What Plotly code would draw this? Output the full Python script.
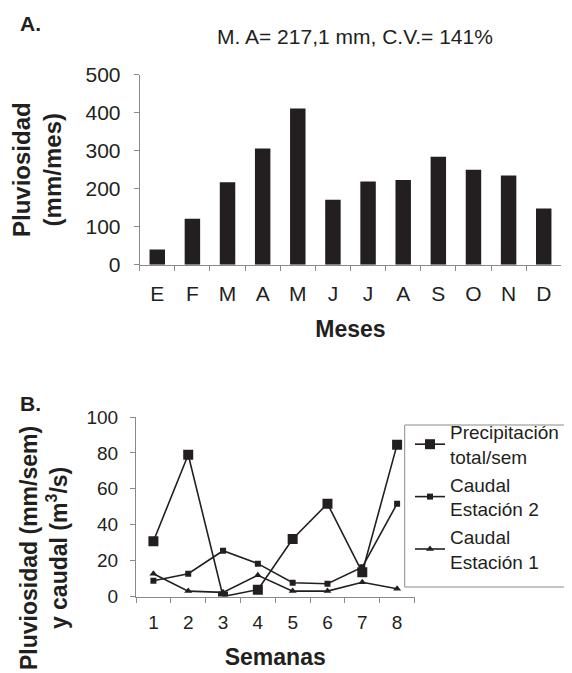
import plotly.graph_objects as go

# ---------------- data ----------------
meses = ["Enero", "Febrero", "Marzo", "Abril", "Mayo", "Junio", "Julio",
         "Agosto", "Septiembre", "Octubre", "Noviembre", "Diciembre"]
meses_etiquetas = ["E", "F", "M", "A", "M", "J", "J", "A", "S", "O", "N", "D"]
pluviosidad_mensual = [40, 121, 217, 306, 411, 171, 219, 223, 284, 250, 235, 148]

semanas = ["1", "2", "3", "4", "5", "6", "7", "8"]
precipitacion_sem = [30.8, 79, 0, 3.8, 32, 51.7, 13.5, 84.6]
caudal_est2 = [8.8, 12.7, 25.5, 18.3, 7.7, 7.1, 16.3, 51.7]
caudal_est1 = [12.7, 3, 2.3, 11.8, 3, 3, 7.9, 4.3]

y_ticks_a = [0, 100, 200, 300, 400, 500]
y_ticks_b = [0, 20, 40, 60, 80, 100]

# ---------------- style ----------------
W, H = 572, 673
INK = "#231f20"
AXC = "#8a8a8a"
FONT = "Liberation Sans, Arial, sans-serif"


def px_x(x):
    return x / W


def px_y(y):
    return (H - y) / H


fig = go.Figure()

fig.add_trace(go.Bar(
    x=meses, y=pluviosidad_mensual, marker=dict(color=INK, line=dict(width=0)),
    xaxis="x", yaxis="y", showlegend=False, name="Pluviosidad",
))

line_style = dict(color=INK, width=1.6)
fig.add_trace(go.Scatter(
    x=semanas, y=precipitacion_sem, mode="lines+markers",
    name="Precipitación<br>total/sem", line=line_style,
    marker=dict(symbol="square", size=10, color=INK),
    xaxis="x2", yaxis="y2",
))
fig.add_trace(go.Scatter(
    x=semanas, y=caudal_est2, mode="lines+markers",
    name="Caudal<br>Estación 2", line=line_style,
    marker=dict(symbol="square", size=6, color=INK),
    xaxis="x2", yaxis="y2",
))
fig.add_trace(go.Scatter(
    x=semanas, y=caudal_est1, mode="lines+markers",
    name="Caudal<br>Estación 1", line=line_style,
    marker=dict(symbol="triangle-up", size=7, color=INK),
    xaxis="x2", yaxis="y2",
))

common_axis = dict(
    showline=True, linecolor=AXC, linewidth=1, showgrid=False, zeroline=False,
    ticks="outside", tickcolor=AXC, ticklen=5, tickwidth=1, automargin=False,
)

xb_domain = [px_x(128), px_x(406.5)]
yb_domain = [px_y(588.5), px_y(409)]

fig.update_layout(
    template="none",
    width=W, height=H,
    margin=dict(l=0, r=0, t=0, b=0, pad=0),
    paper_bgcolor="white", plot_bgcolor="white",
    font=dict(family=FONT, color=INK),
    bargap=0.56,
    xaxis=dict(
        **common_axis, domain=[px_x(131.7), px_x(553.3)], anchor="y",
        type="category", tickson="boundaries",
        tickmode="array", tickvals=meses, ticktext=meses_etiquetas,
        tickfont=dict(size=21), range=[-0.5, 11.5], ticklabelstandoff=10,
        title=dict(text="<b>Meses</b>", font=dict(size=23), standoff=16),
    ),
    yaxis=dict(
        **common_axis, domain=[px_y(256.7), px_y(66.7)], anchor="x",
        range=[0, 500], tickmode="array", tickvals=y_ticks_a,
        tickfont=dict(size=21), ticklabelstandoff=9,
        title=dict(text="<b>Pluviosidad<br>(mm/mes)</b>", font=dict(size=24), standoff=18),
    ),
    xaxis2=dict(
        **common_axis, domain=xb_domain, anchor="y2",
        type="category", tickson="boundaries", range=[-0.5, 7.5],
        tickfont=dict(size=19), ticklabelstandoff=9,
        title=dict(text="<b>Semanas</b>", font=dict(size=23), standoff=16),
    ),
    yaxis2=dict(
        **common_axis, domain=yb_domain, anchor="x2",
        range=[0, 100], tickmode="array", tickvals=y_ticks_b,
        tickfont=dict(size=19), ticklabelstandoff=8,
    ),
    # overlay axes that only add the inner half of the "cross" tick marks of panel B
    xaxis3=dict(
        overlaying="x2", anchor="y2", side="bottom", range=[-0.5, 7.5],
        tickmode="linear", tick0=-0.5, dtick=1, ticks="inside", ticklen=4,
        tickcolor=AXC, tickwidth=1, showticklabels=False, showline=False,
        showgrid=False, zeroline=False, automargin=False,
    ),
    yaxis3=dict(
        overlaying="y2", anchor="x2", side="left", range=[0, 100],
        tickmode="array", tickvals=y_ticks_b, ticks="inside", ticklen=4,
        tickcolor=AXC, tickwidth=1, showticklabels=False, showline=False,
        showgrid=False, zeroline=False, automargin=False,
    ),
    legend=dict(
        x=px_x(402), y=px_y(405), xanchor="left", yanchor="top",
        borderwidth=0, bgcolor="rgba(0,0,0,0)",
        font=dict(size=19, color=INK), tracegroupgap=0,
    ),
    shapes=[
        dict(type="rect", xref="paper", yref="paper",
             x0=px_x(396.7), x1=px_x(571.5), y0=px_y(579), y1=px_y(417),
             line=dict(color=AXC, width=1), fillcolor="white", layer="above"),
    ],
    annotations=[
        dict(text="<b>A.</b>", x=px_x(10), y=px_y(15), xref="paper", yref="paper",
             xanchor="left", yanchor="middle", showarrow=False, font=dict(size=21)),
        dict(text="<b>B.</b>", x=px_x(10), y=px_y(395), xref="paper", yref="paper",
             xanchor="left", yanchor="middle", showarrow=False, font=dict(size=21)),
        dict(text="M. A= 217,1 mm, C.V.= 141%", x=px_x(347), y=px_y(29),
             xref="paper", yref="paper", xanchor="center", yanchor="middle",
             showarrow=False, font=dict(size=21)),
        dict(text="<b>Pluviosidad (mm/sem)<br>y caudal (m<sup>3</sup>/s)</b>",
             x=px_x(36), y=px_y(540), xref="paper", yref="paper",
             xanchor="center", yanchor="middle", textangle=-90,
             showarrow=False, font=dict(size=23)),
    ],
)

fig.write_html("out.html")
